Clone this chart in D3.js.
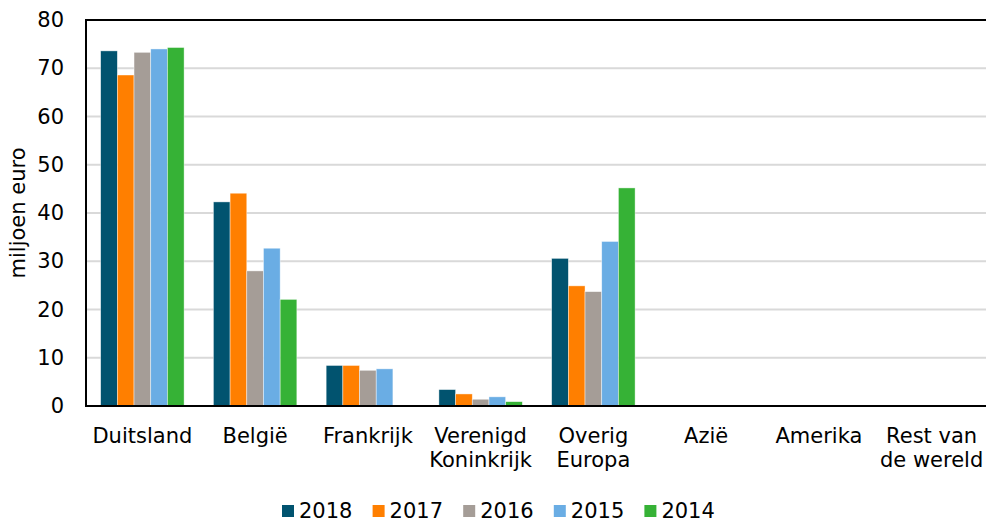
<!DOCTYPE html>
<html>
<head>
<meta charset="utf-8">
<script src="https://cdn.jsdelivr.net/npm/d3@7"></script>
<style>
    body { margin: 0; background: #fff; }
    svg { display: block; font-family: "DejaVu Sans", Verdana, sans-serif; }
</style>
</head>
<body>
<svg id="chart" width="986" height="523"></svg>
<script>
// categories and yearly values (miljoen euro)
var CATEGORIES = [
    ["Duitsland"], ["België"], ["Frankrijk"], ["Verenigd", "Koninkrijk"],
    ["Overig", "Europa"], ["Azië"], ["Amerika"], ["Rest van", "de wereld"]
];
var YEARS = ["2018", "2017", "2016", "2015", "2014"];
var V2018 = [73.6, 42.3, 8.4, 3.4, 30.6, 0, 0, 0];
var V2017 = [68.6, 44.1, 8.4, 2.5, 24.9, 0, 0, 0];
var V2016 = [73.3, 28.0, 7.4, 1.4, 23.7, 0, 0, 0];
var V2015 = [74.0, 32.7, 7.7, 1.9, 34.1, 0, 0, 0];
var V2014 = [74.3, 22.1, 0, 0.9, 45.2, 0, 0, 0];
var Y_TICKS = [0, 10, 20, 30, 40, 50, 60, 70, 80];
var COLORS = ["#01536f", "#ff7f00", "#a59d97", "#6aade4", "#36b236"];

var SERIES = [V2018, V2017, V2016, V2015, V2014];
var FONT_SIZE = 21;

drawChart = function() {
    var svg = d3.select('#chart');
    var left = 86, right = 988, top = 20, bottom = 406;

    var keys = CATEGORIES.map(function(c) { return c.join(' '); });

    var x0 = d3.scaleBand()
        .domain(keys)
        .range([left, right])
        .paddingInner(0.26)
        .paddingOuter(0.13);
    var x1 = d3.scaleBand()
        .domain(YEARS)
        .range([0, x0.bandwidth()]);
    var y = d3.scaleLinear()
        .domain([0, 80])
        .range([bottom, top]);

    // gridlines
    svg.append('g')
        .selectAll('line')
        .data(Y_TICKS.filter(function(t) { return t > 0 && t < 80; }))
        .enter().append('line')
        .attr('x1', left).attr('x2', right)
        .attr('y1', function(d) { return y(d); })
        .attr('y2', function(d) { return y(d); })
        .attr('stroke', '#d9d9d9')
        .attr('stroke-width', 2);

    // bars
    var groups = svg.append('g')
        .selectAll('g')
        .data(keys)
        .enter().append('g')
        .attr('transform', function(d) { return 'translate(' + x0(d) + ',0)'; });

    groups.selectAll('rect')
        .data(function(d, i) {
            return YEARS.map(function(yr, j) {
                return { year: yr, value: SERIES[j][i], color: COLORS[j] };
            });
        })
        .enter().append('rect')
        .filter(function(d) { return d.value > 0; })
        .attr('x', function(d) { return x1(d.year); })
        .attr('width', x1.bandwidth())
        .attr('y', function(d) { return y(d.value); })
        .attr('height', function(d) { return y(0) - y(d.value); })
        .attr('fill', function(d) { return d.color; })
        .attr('stroke', '#fff')
        .attr('stroke-opacity', 0.6)
        .attr('stroke-width', 0.7);

    // frame: top, left and bottom lines
    svg.append('rect')
        .attr('x', left).attr('y', top)
        .attr('width', right - left).attr('height', bottom - top)
        .attr('fill', 'none')
        .attr('stroke', '#000')
        .attr('stroke-width', 2);

    // y axis labels
    var yAxis = d3.axisLeft(y).tickValues(Y_TICKS).tickSize(0).tickPadding(22);
    svg.append('g')
        .attr('transform', 'translate(' + left + ',0)')
        .call(yAxis)
        .call(function(g) { g.select('.domain').remove(); })
        .selectAll('text')
        .attr('font-size', FONT_SIZE)
        .attr('font-family', '"DejaVu Sans", Verdana, sans-serif')
        .attr('fill', '#000');

    svg.append('text')
        .attr('transform', 'translate(25,213) rotate(-90)')
        .attr('text-anchor', 'middle')
        .attr('font-size', FONT_SIZE)
        .text('miljoen euro');

    // category labels
    var labels = svg.append('g')
        .selectAll('text')
        .data(CATEGORIES)
        .enter().append('text')
        .attr('text-anchor', 'middle')
        .attr('font-size', FONT_SIZE)
        .attr('x', function(d, i) { return x0(keys[i]) + x0.bandwidth() / 2; })
        .attr('y', 443);
    labels.selectAll('tspan')
        .data(function(d) { return d; })
        .enter().append('tspan')
        .attr('x', function() { return d3.select(this.parentNode).attr('x'); })
        .attr('dy', function(d, i) { return i === 0 ? 0 : 24; })
        .text(function(d) { return d; });

    // legend
    var legend = svg.append('g')
        .selectAll('g')
        .data(YEARS)
        .enter().append('g')
        .attr('transform', function(d, i) { return 'translate(' + (282 + i * 90.6) + ',505)'; });
    legend.append('rect')
        .attr('width', 12).attr('height', 12)
        .attr('fill', function(d, i) { return COLORS[i]; });
    legend.append('text')
        .attr('x', 17).attr('y', 13)
        .attr('font-size', FONT_SIZE)
        .text(function(d) { return d; });
};

drawChart();
</script>
</body>
</html>
